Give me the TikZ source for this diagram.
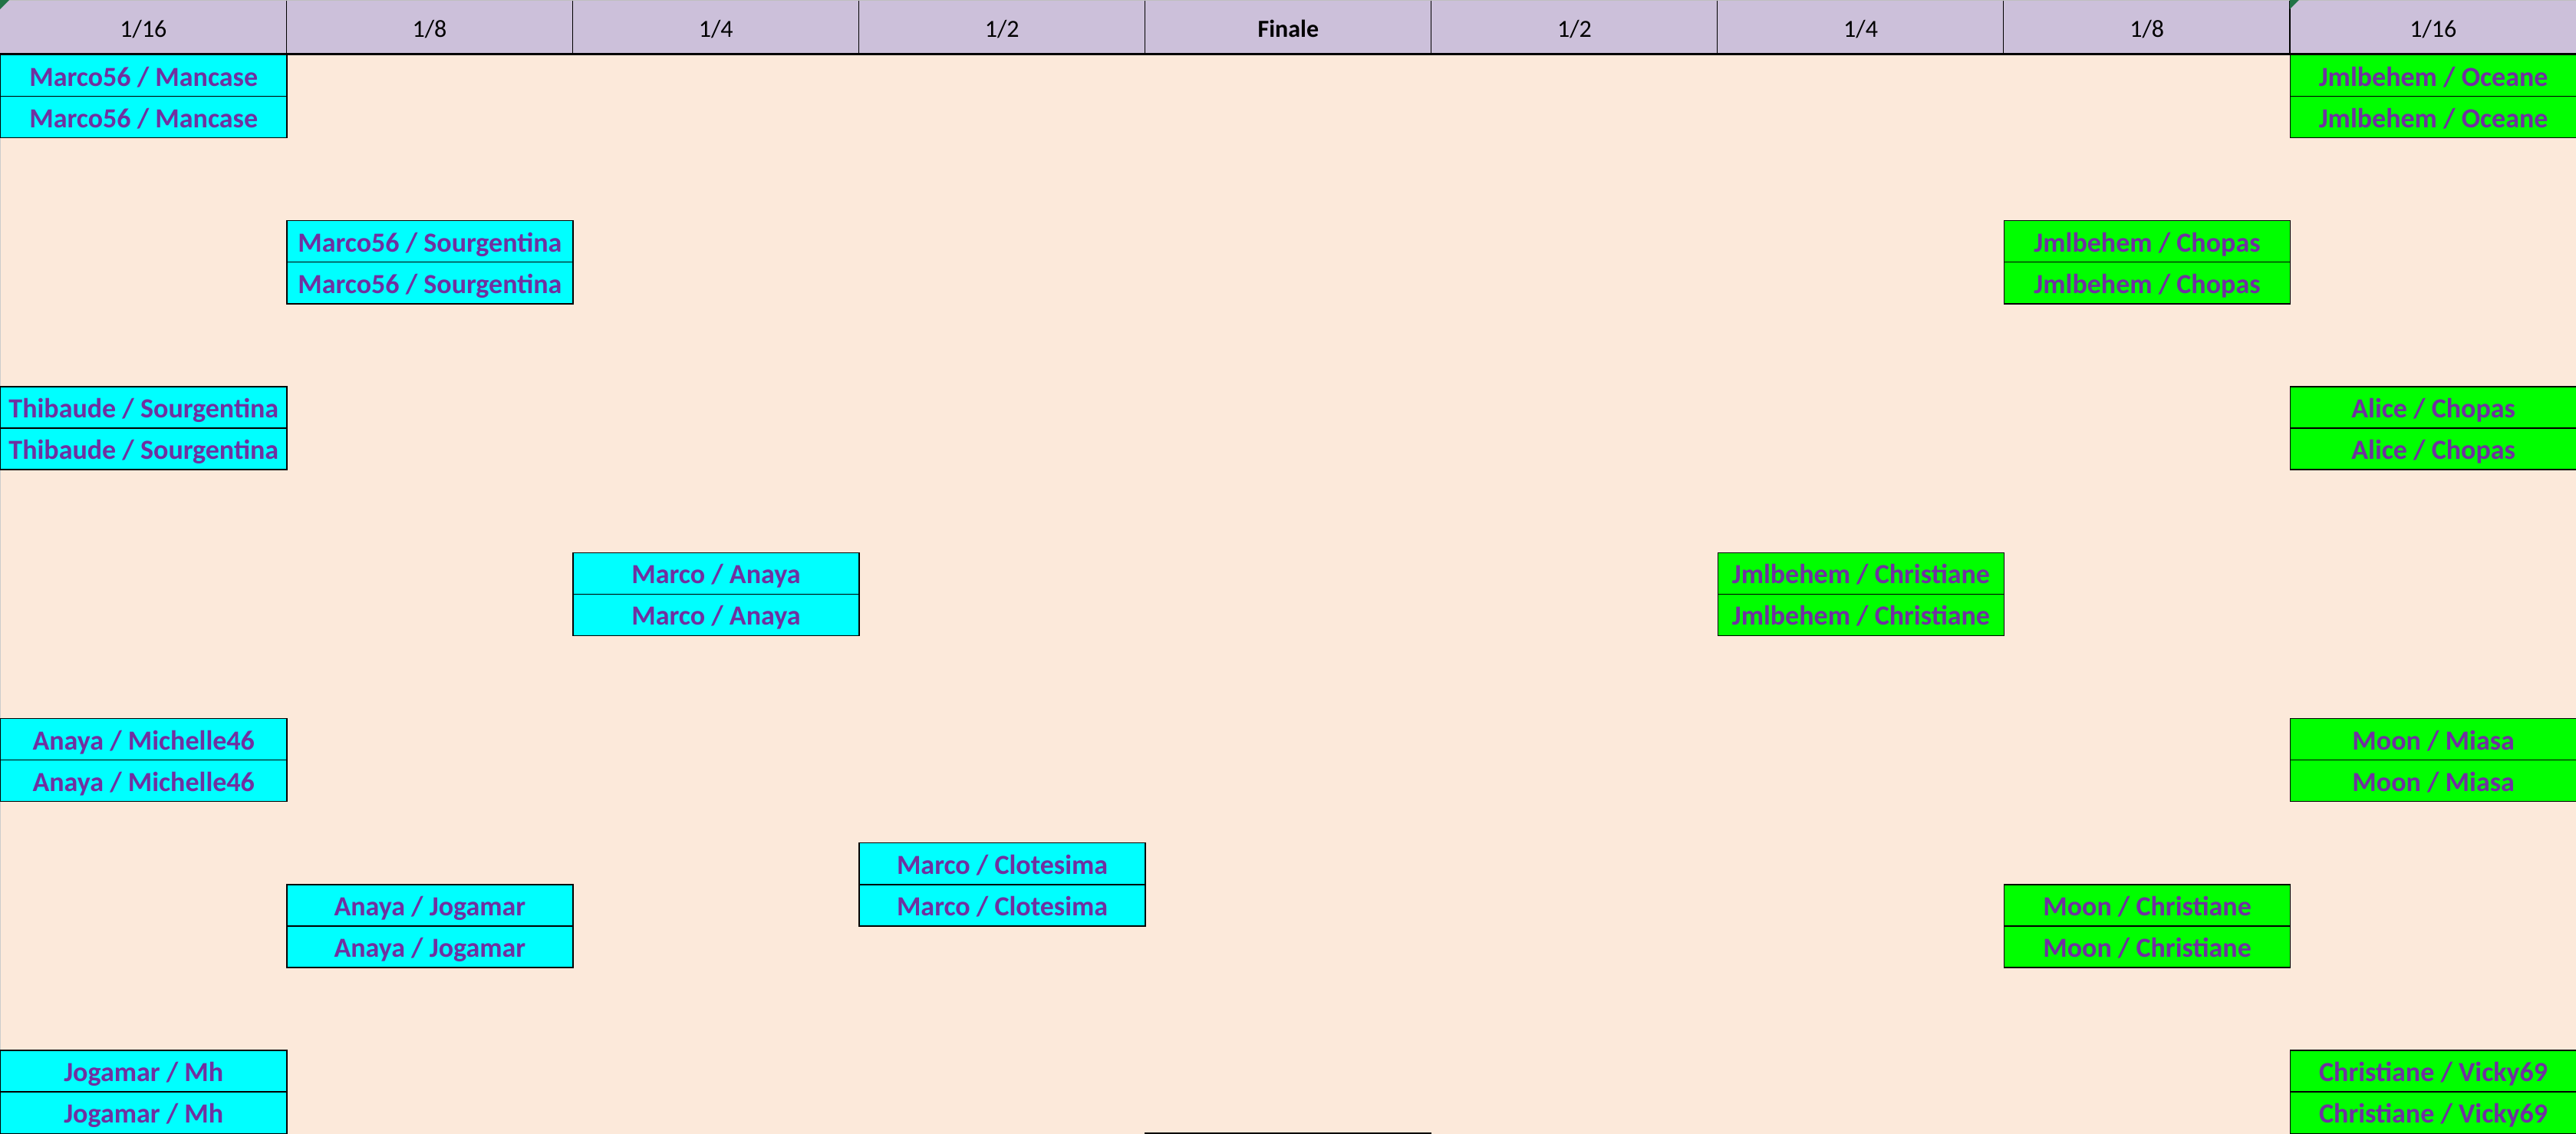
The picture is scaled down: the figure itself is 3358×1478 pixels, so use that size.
\documentclass[tikz,border=0pt]{standalone}
\usepackage{fontspec}
\setmainfont{Carlito}
\definecolor{bg}{HTML}{FCE9DA}
\definecolor{hdr}{HTML}{CCC0DA}
\definecolor{txt}{HTML}{7030A0}
\definecolor{cy}{HTML}{00FFFF}
\definecolor{gr}{HTML}{00FF00}
\definecolor{tri}{HTML}{217346}
\def\W{373.111}
\def\H{70.7}
\def\h{54.07}
\newcommand\matchpair[5]{%
  \node[#1] (#2a) at ({#3*\W},{\H+#4*\h}) {#5};
  \node[#1] (#2b) at ({#3*\W},{\H+(#4+1)*\h}) {#5};}
\begin{document}
\begin{tikzpicture}[x=0.5pt,y=-0.5pt,
  cell/.style={draw=black, line width=0.7pt, anchor=north west,
    minimum width=186.555pt, minimum height=27.035pt, inner sep=0pt,
    text height=16pt, text depth=2.4pt,
    font=\fontsize{18}{20}\selectfont\bfseries, text=txt},
  cyancell/.style={cell, fill=cy},
  greencell/.style={cell, fill=gr},
  hcell/.style={fill=hdr, anchor=north west, minimum width=186.555pt,
    minimum height=35.35pt, inner sep=0pt, text height=14pt, text depth=1.2pt,
    font=\fontsize{16}{18}\selectfont, text=black},
  hline/.style={draw=black, line width=0.6pt}]
\useasboundingbox (0,0) rectangle (3358,1478);
\fill[bg] (0,0) rectangle (3358,1478);
% header
\foreach \i/\t in {0/1\slash 16,1/1\slash 8,2/1\slash 4,3/1\slash 2,5/1\slash 2,6/1\slash 4,7/1\slash 8,8/1\slash 16}{
  \node[hcell] (h\i) at ({\i*\W},0) {\t};
}
\node[hcell, font=\fontsize{16}{18}\selectfont\bfseries] (h4) at ({4*\W},0) {Finale};
\foreach \i in {1,...,8}{
  \draw[hline] ({\i*\W},0) -- ({\i*\W},\H);
}
\draw[black!25, line width=1pt] (0,0) -- (3358,0);
\draw[black!20, line width=1pt] (0,\H) -- (0,1478);
\draw[black, line width=1.3pt] (0,\H) -- (3358,\H);
% indicator triangles
\fill[tri] (0,0) -- (12,0) -- (0,12) -- cycle;
\fill[tri] ({8*\W},0) -- ({8*\W+12},0) -- ({8*\W},12) -- cycle;
% left side
\matchpair{cyancell}{la}{0}{0}{Marco56 / Mancase}
\matchpair{cyancell}{lb}{0}{8}{Thibaude / Sourgentina}
\matchpair{cyancell}{lc}{0}{16}{Anaya / Michelle46}
\matchpair{cyancell}{ld}{0}{24}{Jogamar / Mh}
\matchpair{cyancell}{le}{1}{4}{Marco56 / Sourgentina}
\matchpair{cyancell}{lf}{1}{20}{Anaya / Jogamar}
\matchpair{cyancell}{lg}{2}{12}{Marco / Anaya}
\matchpair{cyancell}{lh}{3}{19}{Marco / Clotesima}
% right side
\matchpair{greencell}{ra}{8}{0}{Jmlbehem / Oceane}
\matchpair{greencell}{rb}{8}{8}{Alice / Chopas}
\matchpair{greencell}{rc}{8}{16}{Moon / Miasa}
\matchpair{greencell}{rd}{8}{24}{Christiane / Vicky69}
\matchpair{greencell}{re}{7}{4}{Jmlbehem / Chopas}
\matchpair{greencell}{rf}{7}{20}{Moon / Christiane}
\matchpair{greencell}{rg}{6}{12}{Jmlbehem / Christiane}
% bottom edge of finale cell
\draw[black, line width=1.1pt] ({4*\W},1477) -- ({5*\W},1477);
\end{tikzpicture}
\end{document}
